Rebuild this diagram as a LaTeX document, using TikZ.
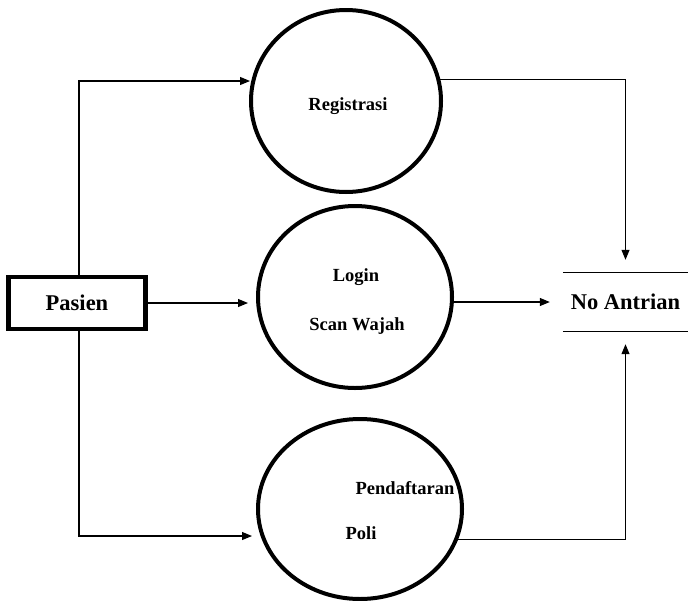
\documentclass[tikz,border=0pt]{standalone}
\usepackage{fontspec}
\setmainfont{Liberation Serif}
\usetikzlibrary{shapes.geometric,arrows.meta}

\tikzset{
  process/.style={ellipse, draw, line width=4pt, inner sep=0pt},
  proctext/.style={font=\fontsize{18.5}{22}\selectfont\bfseries, inner sep=0pt},
  entity/.style={draw, line width=4.5pt, line cap=rect, minimum width=137pt,
                 minimum height=52pt, inner sep=0pt,
                 font=\fontsize{22.5}{26}\selectfont\bfseries},
  store/.style={minimum width=125pt, minimum height=58pt, inner sep=0pt,
                font=\fontsize{22.5}{26}\selectfont\bfseries},
  flow/.style={line width=1.1pt, -{Triangle[length=10pt,width=8pt]}},
}

\begin{document}
\begin{tikzpicture}[x=1pt,y=-1pt]
  \useasboundingbox (0,0) rectangle (693,600);

  % external entity
  \node[entity] (pasien) at (77,303) {Pasien};

  % processes
  \node[process, minimum width=190pt, minimum height=182pt] (reg)   at (346,101) {};
  \node[process, minimum width=194pt, minimum height=182pt] (login) at (355,297) {};
  \node[process, minimum width=204pt, minimum height=180pt] (pend)  at (360,509) {};

  \node[proctext] (tReg)   at (348,106) {Registrasi};
  \node[proctext] (tLogin) at (356,277) {Login};
  \node[proctext] (tScan)  at (357,326) {Scan Wajah};
  \node[proctext] (tPend)  at (405,488) {Pendaftaran};
  \node[proctext] (tPoli)  at (361,533) {Poli};

  % data store
  \node[store] (na) at (625.5,302) {No Antrian};
  \draw[line width=1.3pt] (na.north west) -- (na.north east);
  \draw[line width=1.3pt] (na.south west) -- (na.south east);

  % flow end points on the left side of the upper and lower processes
  \coordinate (regin)  at (250,81);
  \coordinate (pendin) at (252,536);

  % flows out of Pasien
  \draw[flow] ([xshift=2pt]pasien.north) |- (regin);
  \draw[flow] ([xshift=2pt]pasien.south) |- (pendin);
  \draw[flow, shorten >=8pt] (pasien.east) -- (pasien.east -| login.west);

  % flows into No Antrian
  \draw[flow, shorten >=13pt] (reg.13) -| (na.north);
  \draw[flow, shorten >=13pt] (login.east |- na.west) -- (na.west);
  \draw[flow, shorten >=13pt] (pend.-17) -| (na.south);
\end{tikzpicture}
\end{document}
